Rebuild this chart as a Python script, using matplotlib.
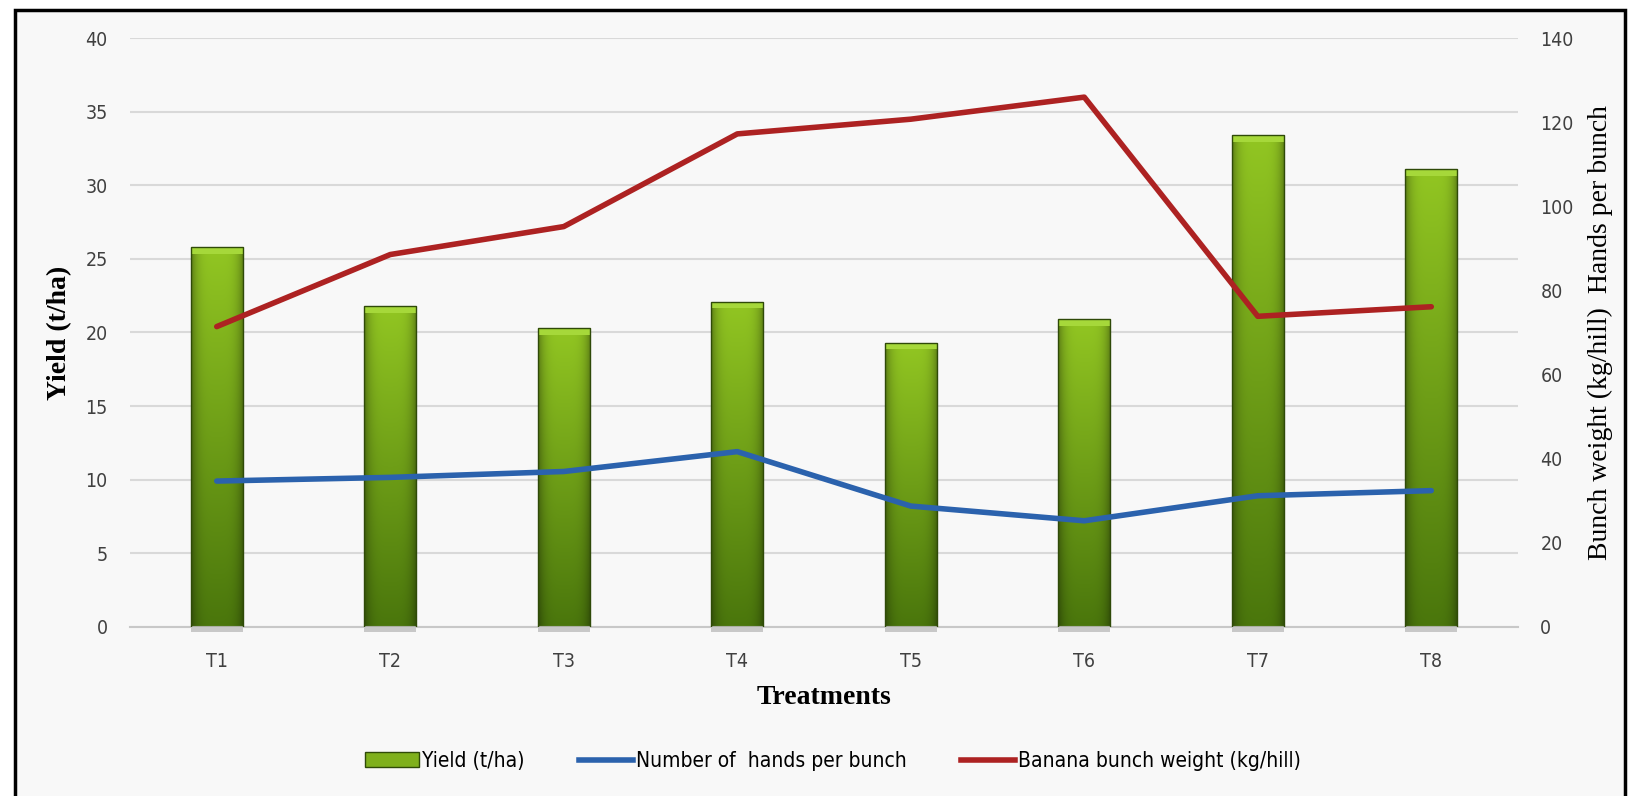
import numpy as np
import matplotlib.pyplot as plt
from matplotlib.patches import Rectangle, Patch
from matplotlib.lines import Line2D
from matplotlib.font_manager import FontProperties

# Data (left axis units)
treatments = ["T1", "T2", "T3", "T4", "T5", "T6", "T7", "T8"]
yield_tha = [25.8, 21.8, 20.3, 22.1, 19.3, 20.9, 33.4, 31.1]
hands_per_bunch = [9.9, 10.15, 10.55, 11.9, 8.2, 7.2, 8.9, 9.25]
bunch_weight = [20.4, 25.3, 27.2, 33.5, 34.5, 36.0, 21.1, 21.75]
left_ticks = [0, 5, 10, 15, 20, 25, 30, 35, 40]
right_ticks = [0, 20, 40, 60, 80, 100, 120, 140]

narrow = ["DejaVu Sans"]
serif = ["Liberation Serif", "DejaVu Serif"]

fig = plt.figure(figsize=(16.33, 7.96), dpi=100, facecolor="white")

# outer frame of the chart
fig.patches.append(Rectangle((0.009, -0.01), 0.986, 0.998, transform=fig.transFigure,
                             facecolor="#f8f8f8", edgecolor="black", lw=2.5, zorder=-10))

ax = fig.add_axes([0.0796, 0.2127, 0.85, 0.7392])
ax.set_facecolor("none")
x = np.arange(len(treatments))
bar_w = 0.30

# gradient image for the bars
ny, nx = 200, 60
t = np.linspace(0, 1, ny)[:, None]
s = np.linspace(-1, 1, nx)[None, :]
top = np.array([0x92, 0xc6, 0x22]) / 255
bot = np.array([0x4a, 0x76, 0x0c]) / 255
col = bot + (top - bot) * t[..., None]
shade = 1 - 0.35 * np.abs(s) ** 4
img = np.clip(col * shade[..., None], 0, 1)

bars = ax.bar(x, yield_tha, width=bar_w, color="none", edgecolor="#2f4a08", lw=1.0, zorder=3)
for b, v in zip(bars, yield_tha):
    x0 = b.get_x()
    im = ax.imshow(img, extent=[x0, x0 + bar_w, 0, v], origin="lower", aspect="auto", zorder=2)
    im.set_clip_path(b)
    # light bevel on top
    ax.add_patch(Rectangle((x0, v - 0.45), bar_w, 0.45, facecolor="#a6d83a", edgecolor="none", zorder=2.5))
    # soft shadow under the bar
    ax.add_patch(Rectangle((x0, -0.35), bar_w, 0.35, facecolor="#c8c8c8", edgecolor="none",
                           zorder=1, clip_on=False))

ax.plot(x, hands_per_bunch, color="#2b62ad", lw=4, solid_capstyle="round", zorder=4)
ax.plot(x, bunch_weight, color="#ad2222", lw=4, solid_capstyle="round", zorder=4)

ax.set_xlim(-0.5, 7.5)
ax.set_ylim(0, 40)
ax.set_yticks(left_ticks)
ax.set_xticks(x)
ax.set_xticklabels(treatments)
ax.grid(axis="y", color="#d9d9d9", lw=1.5, zorder=0)
ax.set_axisbelow(True)
for sp in ["top", "right", "left"]:
    ax.spines[sp].set_visible(False)
ax.spines["bottom"].set_color("#c8c8c8")
ax.spines["bottom"].set_linewidth(1.5)
ax.tick_params(length=0, labelsize=14, labelcolor="#404040", pad=16)
ax.tick_params(axis="x", pad=18)
for lab in ax.get_xticklabels() + ax.get_yticklabels():
    lab.set_family(narrow)
    lab.set_stretch("condensed")

ax.set_ylabel("Yield (t/ha)", family=serif, fontweight="bold", fontsize=20, labelpad=10)
ax.set_xlabel("Treatments", family=serif, fontweight="bold", fontsize=20, labelpad=10)

ax2 = ax.twinx()
ax2.set_ylim(0, 140)
ax2.set_yticks(right_ticks)
for sp in ax2.spines.values():
    sp.set_visible(False)
ax2.tick_params(length=0, labelsize=14, labelcolor="#404040", pad=16)
for lab in ax2.get_yticklabels():
    lab.set_family(narrow)
    lab.set_stretch("condensed")
ax2.set_ylabel("Bunch weight (kg/hill)  Hands per bunch", family=serif, fontsize=20, labelpad=10)

handles = [
    Patch(facecolor="#7fb01c", edgecolor="#2f4a08"),
    Line2D([], [], color="#2b62ad", lw=4),
    Line2D([], [], color="#ad2222", lw=4),
]
labels = ["Yield (t/ha)", "Number of  hands per bunch", "Banana bunch weight (kg/hill)"]
legend_font = FontProperties(family=narrow, size=15, stretch="condensed")
fig.legend(handles, labels, loc="center", bbox_to_anchor=(0.51, 0.044), ncol=3, frameon=False,
           prop=legend_font, handlelength=2.6, handletextpad=0.15, columnspacing=2.6)

fig.savefig("out.png", dpi=100, facecolor="white")
